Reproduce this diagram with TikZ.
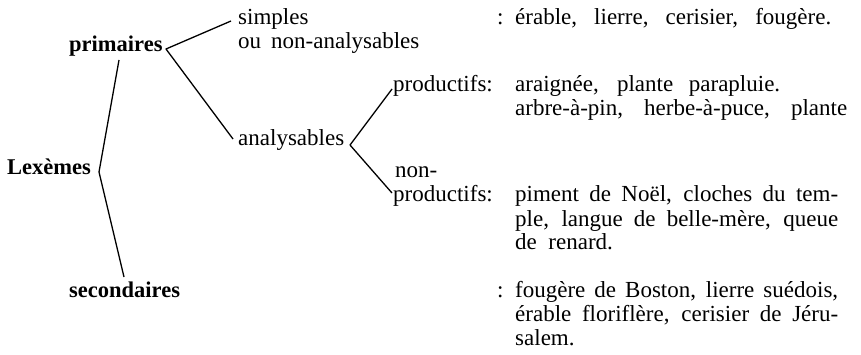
\documentclass[tikz,border=0pt]{standalone}
\usepackage{fontspec}
\setmainfont{Liberation Serif}
\begin{document}
\begin{tikzpicture}[x=1pt,y=-1pt,
  txt/.style={anchor=base west, inner sep=0pt, font=\fontsize{23}{27}\selectfont},
  hd/.style={anchor=base west, inner sep=0pt, font=\fontsize{22.5}{27}\selectfont\bfseries},
  br/.style={line width=1.3pt, line join=round}]
\useasboundingbox (0,0) rectangle (861,355);
% headings
\node[hd] (lex) at (7,175) {Lexèmes};
\node[hd] (prim) at (69,52) {primaires};
\node[hd] (sec) at (69,297) {secondaires};
% second level
\node[txt] (simp) at (238,25) {simples};
\node[txt] (ounon) at (238,49) {ou\hspace{10pt}non-analysables};
\node[txt] (ana) at (238,146) {analysables};
% third level
\node[txt] (prod) at (393,92) {productifs:};
\node[txt] (non) at (395,178) {non-};
\node[txt] (nprod) at (393,202) {productifs:};
% examples
\node[txt] (c1) at (497,25) {:};
\node[txt] (l1) at (515,25) {\makebox[316pt][s]{érable, lierre, cerisier, fougère.}};
\node[txt] (l2) at (515,92) {\makebox[265pt][s]{araignée, plante parapluie.}};
\node[txt] (l3) at (515,116) {\makebox[332pt][s]{arbre-à-pin, herbe-à-puce, plante}};
\node[txt] (l4) at (515,202) {\makebox[323pt][s]{piment de Noël, cloches du tem-}};
\node[txt] (l5) at (515,226) {\makebox[323pt][s]{ple, langue de belle-mère, queue}};
\node[txt] (l6) at (515,250) {de\ \ renard.};
\node[txt] (c2) at (497,297) {:};
\node[txt] (l7) at (515,297) {\makebox[323pt][s]{fougère de Boston, lierre suédois,}};
\node[txt] (l8) at (515,321) {\makebox[323pt][s]{érable floriflère, cerisier de Jéru-}};
\node[txt] (l9) at (515,345) {salem.};
% bracket points
\coordinate (lv) at (99,172);
\coordinate (pv) at (166,49);
\coordinate (av) at (350,145);
% connectors
\draw[br] ([xshift=50pt,yshift=-8pt]prim.base west) -- (lv) -- ([xshift=55pt,yshift=20pt]sec.base west);
\draw[br] ([xshift=-7pt,yshift=4pt]simp.base west) -- (pv) -- ([xshift=-5pt,yshift=7pt]ana.base west);
\draw[br] ([xshift=-1pt,yshift=3pt]prod.base west) -- (av) -- ([xshift=-1pt,yshift=9pt]nprod.base west);
\end{tikzpicture}
\end{document}
